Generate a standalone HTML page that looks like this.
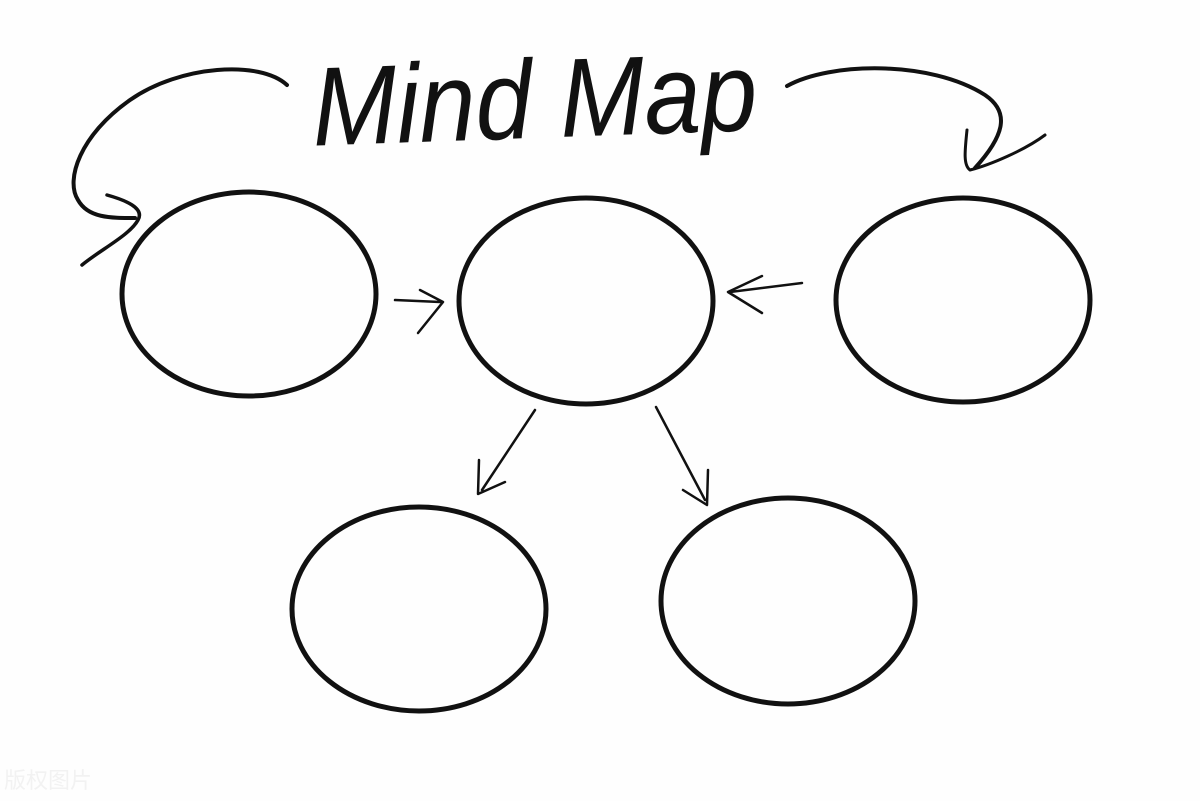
<!DOCTYPE html>
<html><head><meta charset="utf-8"><style>html,body{margin:0;padding:0;background:#fff}svg{display:block}</style></head>
<body>
<svg width="1200" height="801" viewBox="0 0 1200 801" xmlns="http://www.w3.org/2000/svg">
<rect width="1200" height="801" fill="#fefefe"/>
<g fill="none" stroke="#111" stroke-linecap="round" stroke-linejoin="round">
<ellipse cx="249" cy="294" rx="127" ry="102" stroke-width="5"/>
<ellipse cx="586" cy="301" rx="127" ry="103" stroke-width="5"/>
<ellipse cx="963" cy="300" rx="127" ry="102" stroke-width="5"/>
<ellipse cx="419" cy="609" rx="127" ry="102" stroke-width="5"/>
<ellipse cx="788" cy="601" rx="127" ry="103" stroke-width="5"/>
<path d="M287 85 C260 60 180 65 130 100 C80 135 65 180 78 200 C88 218 110 218 135 218" stroke-width="4"/>
<path d="M107 195 C125 200 145 208 138 220 C130 235 100 250 82 265" stroke-width="3.5"/>
<path d="M787 86 C830 62 930 60 985 95 C1010 112 1005 135 975 168" stroke-width="4"/>
<path d="M967 130 C965 150 963 165 970 170 C990 165 1025 150 1045 135" stroke-width="3"/>
<path d="M395 300 L440 302 M420 290 L443 302 L418 333" stroke-width="2.5"/>
<path d="M802 283 L730 292 M762 276 L728 292 L762 313" stroke-width="2.5"/>
<path d="M535 410 L482 490 M479 460 L478 494 L505 482" stroke-width="2.5"/>
<path d="M656 407 L705 500 M683 490 L707 505 L708 470" stroke-width="2.5"/>
</g>
<text x="312" y="138" font-family="Liberation Sans, sans-serif" font-style="italic" font-size="112" fill="#111" textLength="445" lengthAdjust="spacingAndGlyphs" transform="rotate(-2 530 100)">Mind Map</text>
<text x="4" y="788" font-family="Liberation Sans, Noto Sans CJK SC, sans-serif" font-size="22" fill="#f2f2f2">版权图片</text>
</svg>
</body></html>
